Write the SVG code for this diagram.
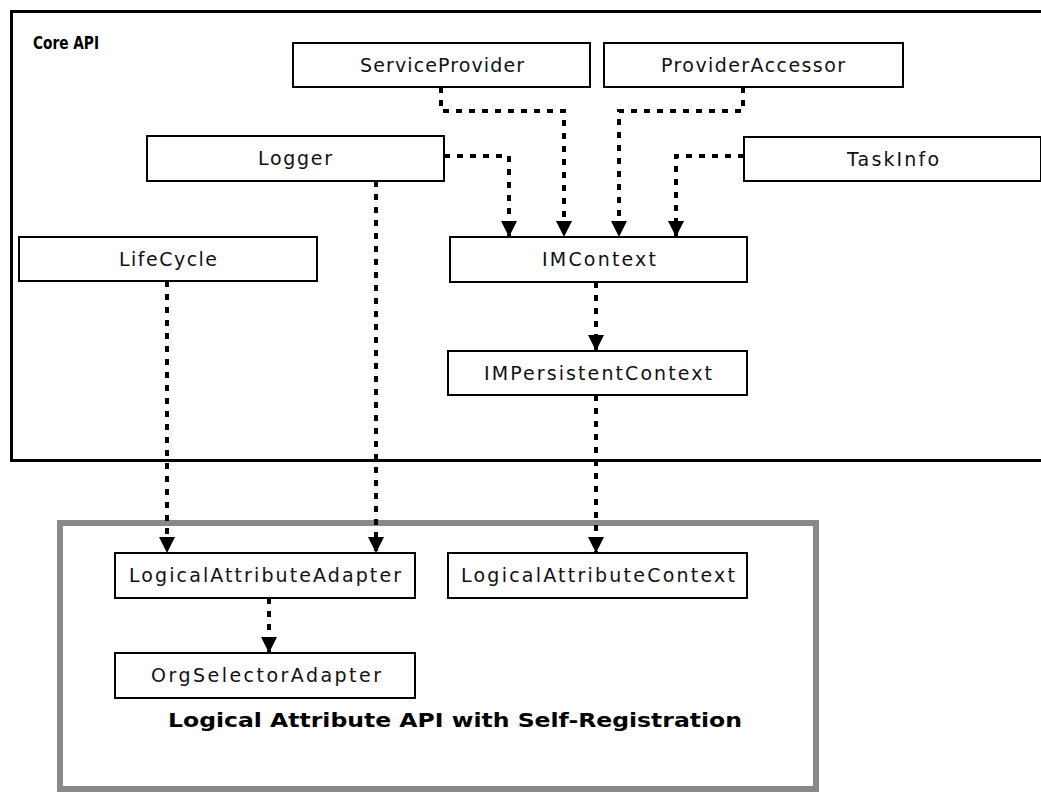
<svg xmlns="http://www.w3.org/2000/svg" width="1041" height="793" viewBox="0 0 1041 793">
<style>
.node rect{fill:#fff;stroke:#000;stroke-width:2}
.node text{font-family:"DejaVu Sans","Liberation Sans",sans-serif;font-size:19px;fill:#111;text-anchor:middle}
.title{font-family:"DejaVu Sans","Liberation Sans",sans-serif;font-weight:bold;fill:#000}
.conn path{fill:none;stroke:#000;stroke-width:4;stroke-dasharray:6 7}
</style>
<defs>
<marker id="ah" markerUnits="userSpaceOnUse" markerWidth="18" markerHeight="18" viewBox="0 -9 17 18" refX="16" refY="0" orient="auto">
<path d="M0,-8 L16,0 L0,8 z" fill="#000"/>
</marker>
</defs>
<rect width="1041" height="793" fill="#fff"/>
<g id="core-api">
<rect x="11.5" y="11.5" width="1100" height="449" fill="none" stroke="#000" stroke-width="3"/>
<text class="title" x="33" y="49" font-size="17" textLength="66" lengthAdjust="spacingAndGlyphs">Core API</text>
</g>
<g id="logical-attribute-api">
<rect x="60" y="523" width="756" height="266" fill="none" stroke="#888" stroke-width="6"/>
<text class="title" x="168" y="727" font-size="19" textLength="574" lengthAdjust="spacingAndGlyphs">Logical Attribute API with Self-Registration</text>
</g>
<g id="connectors" class="conn">
<path d="M444,156 H509 V237" marker-end="url(#ah)"/>
<path d="M441,87 V111 H564 V237" marker-end="url(#ah)"/>
<path d="M743,87 V111 H619 V237" marker-end="url(#ah)"/>
<path d="M744,156 H676 V237" marker-end="url(#ah)"/>
<path d="M596,282 V351" marker-end="url(#ah)"/>
<path d="M596,395 V553" marker-end="url(#ah)"/>
<path d="M167,281 V553" marker-end="url(#ah)"/>
<path d="M376,181 V553" marker-end="url(#ah)"/>
<path d="M269,598 V653" marker-end="url(#ah)"/>
</g>
<g id="ServiceProvider" class="node"><rect x="293" y="43" width="297" height="44"/><text x="442" y="72" textLength="164" lengthAdjust="spacing">ServiceProvider</text></g>
<g id="ProviderAccessor" class="node"><rect x="604" y="43" width="299" height="44"/><text x="753" y="72" textLength="184" lengthAdjust="spacing">ProviderAccessor</text></g>
<g id="Logger" class="node"><rect x="147" y="136" width="297" height="45"/><text x="295" y="165" textLength="74" lengthAdjust="spacing">Logger</text></g>
<g id="TaskInfo" class="node"><rect x="744" y="137" width="297" height="44"/><text x="893" y="166" textLength="92" lengthAdjust="spacing">TaskInfo</text></g>
<g id="LifeCycle" class="node"><rect x="19" y="237" width="298" height="44"/><text x="168" y="266" textLength="98" lengthAdjust="spacing">LifeCycle</text></g>
<g id="IMContext" class="node"><rect x="450" y="237" width="297" height="45"/><text x="599" y="266" textLength="114" lengthAdjust="spacing">IMContext</text></g>
<g id="IMPersistentContext" class="node"><rect x="448" y="351" width="299" height="44"/><text x="598" y="380" textLength="228" lengthAdjust="spacing">IMPersistentContext</text></g>
<g id="LogicalAttributeAdapter" class="node"><rect x="115" y="553" width="300" height="45"/><text x="265" y="582" textLength="272" lengthAdjust="spacing">LogicalAttributeAdapter</text></g>
<g id="LogicalAttributeContext" class="node"><rect x="448" y="553" width="299" height="45"/><text x="598" y="582" textLength="274" lengthAdjust="spacing">LogicalAttributeContext</text></g>
<g id="OrgSelectorAdapter" class="node"><rect x="115" y="653" width="300" height="45"/><text x="266" y="682" textLength="230" lengthAdjust="spacing">OrgSelectorAdapter</text></g>
</svg>
